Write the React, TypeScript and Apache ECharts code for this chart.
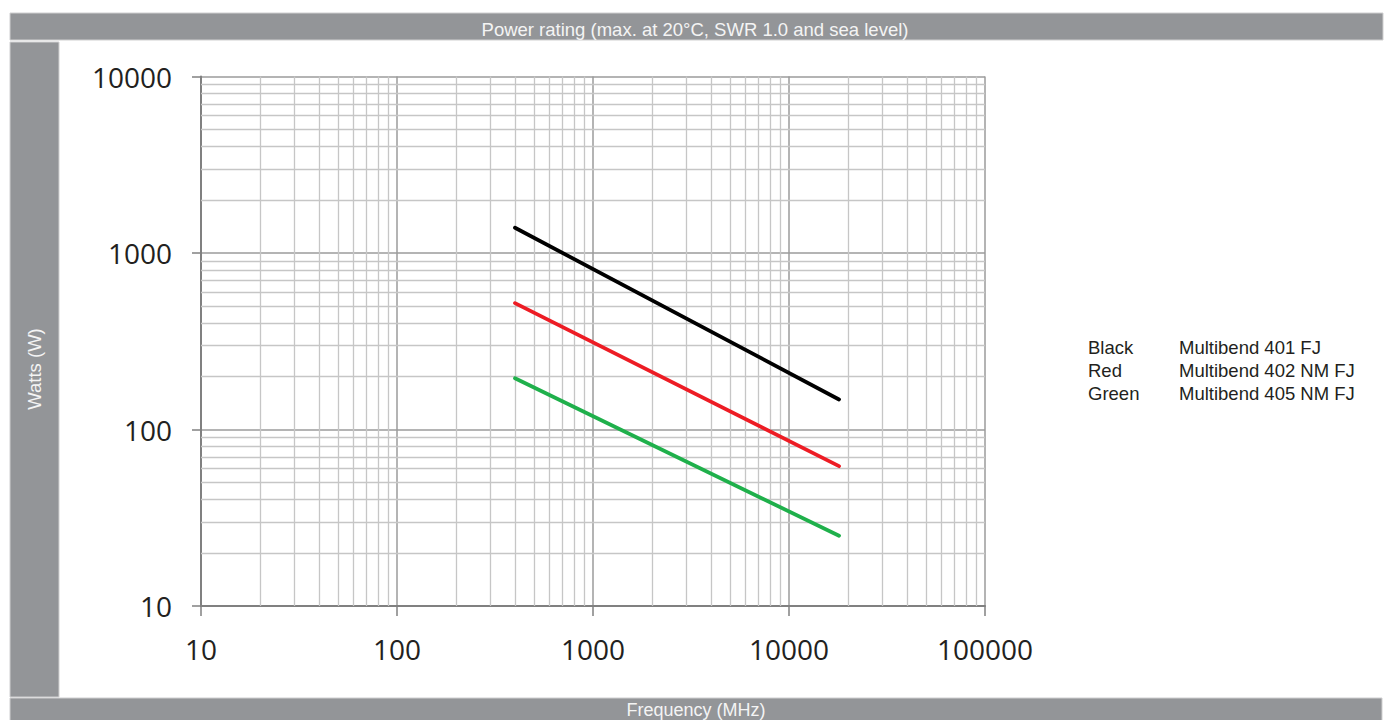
import React, { useEffect, useRef } from "react";
import * as echarts from "echarts";

// Frequency range (MHz) over which each rating line is given
const frequencies = [400, 18000];

// Maximum power (W) at each end of the frequency range
const blackWatts = [1390, 148];
const redWatts = [520, 62];
const greenWatts = [195, 25];

// Legend rows
const colourNames = ["Black", "Red", "Green"];
const productNames = ["Multibend 401 FJ", "Multibend 402 NM FJ", "Multibend 405 NM FJ"];
const lineColours = ["#000000", "#ed1c24", "#1fb04b"];

// Log axes extents
const freqMin = 10;
const freqMax = 100000;
const wattMin = 10;
const wattMax = 10000;

// Minor grid lines: 2..9 within each decade
const minorSteps = [2, 3, 4, 5, 6, 7, 8, 9];
const freqDecades = [10, 100, 1000, 10000];
const wattDecades = [10, 100, 1000];

const TEXT_FONT = "'Liberation Sans', Arial, Helvetica, sans-serif";
const AXIS_FONT = "'Open Sans', 'Noto Sans', sans-serif";
const BAR_GREY = "#939598";

export default function App() {
  const ref = useRef<HTMLDivElement>(null);

  useEffect(() => {
    if (!ref.current) return;
    const chart = echarts.init(ref.current, null, { renderer: "svg" });

    const minorX = freqDecades.flatMap((d) => minorSteps.map((m) => ({ xAxis: d * m })));
    const minorY = wattDecades.flatMap((d) => minorSteps.map((m) => ({ yAxis: d * m })));

    const seriesWatts = [blackWatts, redWatts, greenWatts];

    const series: any[] = seriesWatts.map((watts, i) => ({
      name: productNames[i],
      type: "line",
      data: frequencies.map((f, j) => [f, watts[j]]),
      showSymbol: false,
      symbol: "none",
      silent: true,
      z: 3,
      lineStyle: { color: lineColours[i], width: 3.8, cap: "round" },
      itemStyle: { color: lineColours[i] },
    }));

    series[0].markLine = {
      silent: true,
      symbol: ["none", "none"],
      z: 1,
      label: { show: false },
      emphasis: { disabled: true },
      lineStyle: { color: "#c6c6c6", width: 1.3, type: "solid" },
      data: [...minorX, ...minorY],
    };

    const legendTexts: any[] = [];
    colourNames.forEach((c, i) => {
      legendTexts.push({
        type: "text",
        x: 1088,
        y: 347 + i * 23,
        style: {
          text: c,
          fill: "#231f20",
          font: `18.5px ${TEXT_FONT}`,
          textVerticalAlign: "middle",
          verticalAlign: "middle",
        },
      });
      legendTexts.push({
        type: "text",
        x: 1179,
        y: 347 + i * 23,
        style: {
          text: productNames[i],
          fill: "#231f20",
          font: `18.5px ${TEXT_FONT}`,
          textVerticalAlign: "middle",
          verticalAlign: "middle",
        },
      });
    });

    chart.setOption({
      animation: false,
      backgroundColor: "#ffffff",
      grid: { left: 201, right: 404, top: 76.5, bottom: 114, containLabel: false },
      xAxis: {
        type: "log",
        logBase: 10,
        min: freqMin,
        max: freqMax,
        axisLine: { show: true, onZero: false, lineStyle: { color: "#808080", width: 2 } },
        axisTick: { show: true, length: 10, lineStyle: { color: "#808080", width: 1.5 } },
        axisLabel: {
          margin: 29,
          color: "#231f20",
          fontSize: 28,
          fontFamily: AXIS_FONT,
          formatter: (v: number) => String(Math.round(v)),
        },
        splitLine: { show: true, lineStyle: { color: "#9b9b9b", width: 1.5 } },
        minorTick: { show: false },
      },
      yAxis: {
        type: "log",
        logBase: 10,
        min: wattMin,
        max: wattMax,
        axisLine: { show: true, onZero: false, lineStyle: { color: "#808080", width: 2 } },
        axisTick: { show: true, length: 9, lineStyle: { color: "#808080", width: 1.5 } },
        axisLabel: {
          margin: 29,
          color: "#231f20",
          fontSize: 28,
          fontFamily: AXIS_FONT,
          formatter: (v: number) => String(Math.round(v)),
        },
        splitLine: { show: true, lineStyle: { color: "#9b9b9b", width: 1.5 } },
      },
      series,
      graphic: [
        {
          type: "rect",
          shape: { x: 10, y: 13, width: 1373, height: 27 },
          style: { fill: BAR_GREY, stroke: "#cfcfd0", lineWidth: 1 },
          silent: true,
        },
        {
          type: "rect",
          shape: { x: 10, y: 42, width: 49, height: 655 },
          style: { fill: BAR_GREY, stroke: "#cfcfd0", lineWidth: 1 },
          silent: true,
        },
        {
          type: "rect",
          shape: { x: 10, y: 698, width: 1372, height: 30 },
          style: { fill: BAR_GREY, stroke: "#cfcfd0", lineWidth: 1 },
          silent: true,
        },
        {
          type: "text",
          x: 695,
          y: 29,
          style: {
            text: "Power rating (max. at 20°C, SWR 1.0 and sea level)",
            fill: "#f4f4f4",
            font: `18.5px ${TEXT_FONT}`,
            textAlign: "center",
            textVerticalAlign: "middle",
            align: "center",
            verticalAlign: "middle",
          },
          silent: true,
        },
        {
          type: "text",
          x: 34.5,
          y: 369,
          rotation: Math.PI / 2,
          style: {
            text: "Watts (W)",
            fill: "#f4f4f4",
            font: `18.5px ${TEXT_FONT}`,
            textAlign: "center",
            textVerticalAlign: "middle",
            align: "center",
            verticalAlign: "middle",
          },
          silent: true,
        },
        {
          type: "text",
          x: 696,
          y: 709.5,
          style: {
            text: "Frequency (MHz)",
            fill: "#f4f4f4",
            font: `18px ${TEXT_FONT}`,
            textAlign: "center",
            textVerticalAlign: "middle",
            align: "center",
            verticalAlign: "middle",
          },
          silent: true,
        },
        ...legendTexts,
      ],
    });

    return () => chart.dispose();
  }, []);

  return (
    <div
      ref={ref}
      style={{ position: "fixed", left: 0, top: 0, width: 1389, height: 720, background: "#ffffff" }}
    />
  );
}
